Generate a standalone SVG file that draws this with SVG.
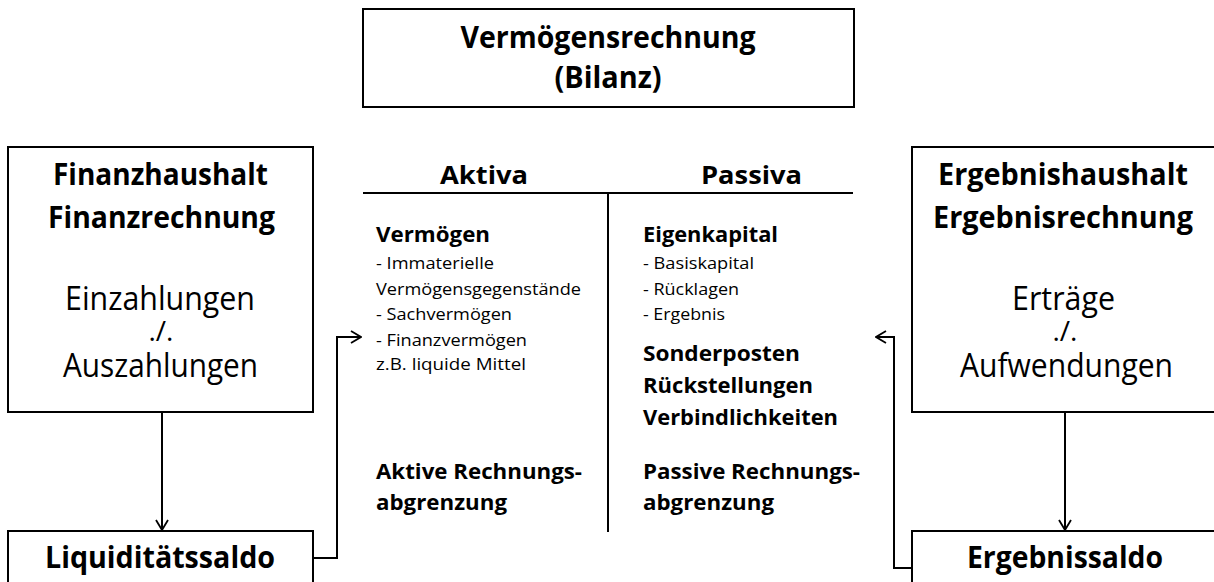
<svg xmlns="http://www.w3.org/2000/svg" width="1214" height="582" viewBox="0 0 1214 582">
  <style>
    .box { fill: #ffffff; stroke: #000000; stroke-width: 2; }
    .ln { fill: none; stroke: #000000; stroke-width: 2; }
    .t { font-family: "Open Sans", "Noto Sans", sans-serif; fill: #000000; }
    .b { font-weight: bold; }
    .c { text-anchor: middle; }
    .big { font-size: 31px; }
    .hd { font-size: 30px; }
    .rg { font-size: 32px; }
    .op { font-size: 28px; }
    .col { font-size: 25px; }
    .md { font-size: 22px; }
    .sm { font-size: 17px; }
  </style>
  <defs>
    <marker id="arr" viewBox="0 0 12 14" refX="11" refY="7" markerWidth="12" markerHeight="14" markerUnits="userSpaceOnUse" orient="auto">
      <path d="M1,1 L11,7 L1,13" fill="none" stroke="#000000" stroke-width="1.8"/>
    </marker>
  </defs>
  <rect width="1214" height="582" fill="#ffffff"/>

  <g id="connectors">
    <line class="ln" x1="162" y1="412" x2="162" y2="530" marker-end="url(#arr)"/>
    <line class="ln" x1="1065" y1="412" x2="1065" y2="530" marker-end="url(#arr)"/>
    <polyline class="ln" points="313,558 337,558 337,337 361,337" marker-end="url(#arr)"/>
    <polyline class="ln" points="912,568 894,568 894,337 876,337" marker-end="url(#arr)"/>
  </g>

  <g id="bilanz">
    <rect class="box" x="363" y="9" width="491" height="98"/>
    <text class="t b c big" x="608" y="48" textLength="295" lengthAdjust="spacingAndGlyphs">Vermögensrechnung</text>
    <text class="t b c big" x="608" y="88" textLength="107" lengthAdjust="spacingAndGlyphs">(Bilanz)</text>
  </g>

  <g id="bilanz-tabelle">
    <line class="ln" x1="363" y1="193" x2="853" y2="193"/>
    <line class="ln" x1="608" y1="193" x2="608" y2="532"/>
    <text class="t b c col" x="484" y="184" textLength="88" lengthAdjust="spacingAndGlyphs">Aktiva</text>
    <text class="t b c col" x="751.5" y="184" textLength="101" lengthAdjust="spacingAndGlyphs">Passiva</text>
  </g>

  <g id="aktiva">
    <text class="t b md" x="376" y="242" textLength="114" lengthAdjust="spacingAndGlyphs">Vermögen</text>
    <text class="t sm" x="376" y="269" textLength="118" lengthAdjust="spacingAndGlyphs">- Immaterielle</text>
    <text class="t sm" x="376" y="295" textLength="205" lengthAdjust="spacingAndGlyphs">Vermögensgegenstände</text>
    <text class="t sm" x="376" y="320" textLength="136" lengthAdjust="spacingAndGlyphs">- Sachvermögen</text>
    <text class="t sm" x="376" y="346" textLength="151" lengthAdjust="spacingAndGlyphs">- Finanzvermögen</text>
    <text class="t sm" x="376" y="370" textLength="150" lengthAdjust="spacingAndGlyphs">z.B. liquide Mittel</text>
    <text class="t b md" x="376" y="479" textLength="206" lengthAdjust="spacingAndGlyphs">Aktive Rechnungs-</text>
    <text class="t b md" x="376" y="510" textLength="131" lengthAdjust="spacingAndGlyphs">abgrenzung</text>
  </g>

  <g id="passiva">
    <text class="t b md" x="643" y="242" textLength="135" lengthAdjust="spacingAndGlyphs">Eigenkapital</text>
    <text class="t sm" x="643" y="269" textLength="111" lengthAdjust="spacingAndGlyphs">- Basiskapital</text>
    <text class="t sm" x="643" y="295" textLength="96" lengthAdjust="spacingAndGlyphs">- Rücklagen</text>
    <text class="t sm" x="643" y="320" textLength="82" lengthAdjust="spacingAndGlyphs">- Ergebnis</text>
    <text class="t b md" x="643" y="361" textLength="157" lengthAdjust="spacingAndGlyphs">Sonderposten</text>
    <text class="t b md" x="643" y="393" textLength="170" lengthAdjust="spacingAndGlyphs">Rückstellungen</text>
    <text class="t b md" x="643" y="425" textLength="195" lengthAdjust="spacingAndGlyphs">Verbindlichkeiten</text>
    <text class="t b md" x="643" y="479" textLength="217" lengthAdjust="spacingAndGlyphs">Passive Rechnungs-</text>
    <text class="t b md" x="643" y="510" textLength="131" lengthAdjust="spacingAndGlyphs">abgrenzung</text>
  </g>

  <g id="finanzhaushalt">
    <rect class="box" x="8" y="147" width="305" height="265"/>
    <text class="t b c hd" x="160.5" y="185" textLength="215" lengthAdjust="spacingAndGlyphs">Finanzhaushalt</text>
    <text class="t b c hd" x="161.5" y="228" textLength="227" lengthAdjust="spacingAndGlyphs">Finanzrechnung</text>
    <text class="t c rg" x="160" y="310" textLength="190" lengthAdjust="spacingAndGlyphs">Einzahlungen</text>
    <text class="t c op" x="161" y="341">./.</text>
    <text class="t c rg" x="160.5" y="377" textLength="195" lengthAdjust="spacingAndGlyphs">Auszahlungen</text>
  </g>

  <g id="liquiditaetssaldo">
    <rect class="box" x="8" y="531" width="305" height="80"/>
    <text class="t b c hd" x="160" y="568" textLength="230" lengthAdjust="spacingAndGlyphs">Liquiditätssaldo</text>
  </g>

  <g id="ergebnishaushalt">
    <rect class="box" x="912" y="147" width="305" height="265"/>
    <text class="t b c hd" x="1063" y="185" textLength="250" lengthAdjust="spacingAndGlyphs">Ergebnishaushalt</text>
    <text class="t b c hd" x="1063" y="228" textLength="260" lengthAdjust="spacingAndGlyphs">Ergebnisrechnung</text>
    <text class="t c rg" x="1063.5" y="310" textLength="103" lengthAdjust="spacingAndGlyphs">Erträge</text>
    <text class="t c op" x="1065" y="341">./.</text>
    <text class="t c rg" x="1066.5" y="377" textLength="213" lengthAdjust="spacingAndGlyphs">Aufwendungen</text>
  </g>

  <g id="ergebnissaldo">
    <rect class="box" x="912" y="531" width="305" height="80"/>
    <text class="t b c hd" x="1065" y="568" textLength="196" lengthAdjust="spacingAndGlyphs">Ergebnissaldo</text>
  </g>
</svg>
